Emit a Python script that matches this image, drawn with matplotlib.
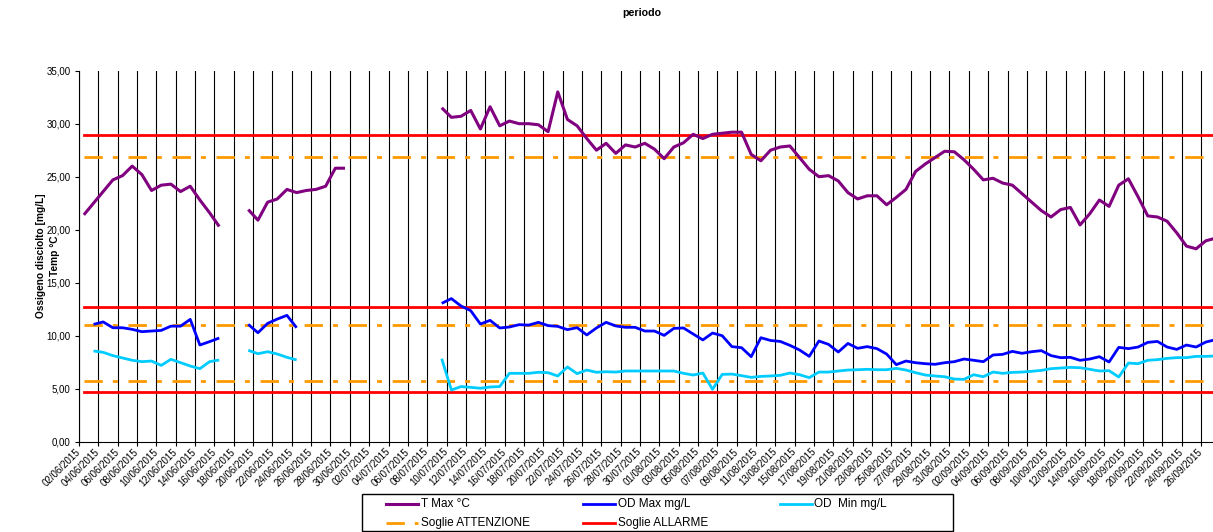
import numpy as np
import pandas as pd
import matplotlib
matplotlib.use("Agg")
import matplotlib.pyplot as plt
import matplotlib.dates as mdates
from matplotlib.lines import Line2D
from matplotlib.patches import Rectangle

plt.rcParams['font.family'] = ['Liberation Sans', 'DejaVu Sans']
plt.rcParams['lines.scale_dashes'] = False

nan = np.nan

# ---------------- data ----------------
start_date = "2015-06-02"
n_days = 118
last_label_date = "2015-09-26"

t_max = ([21.4, 22.5, 23.6, 24.7, 25.1, 26.0, 25.2, 23.7, 24.2, 24.3, 23.6, 24.1, 22.8, 21.6, 20.3]
         + [nan, nan]
         + [21.9, 20.9, 22.6, 22.9, 23.8, 23.5, 23.7, 23.8, 24.1, 25.8, 25.8]
         + [nan] * 9
         + [31.5, 30.6, 30.7, 31.25, 29.5, 31.6, 29.8, 30.25, 30.0, 30.0, 29.9, 29.25, 33.0, 30.4,
            29.8, 28.6, 27.5, 28.15, 27.2, 28.0, 27.8, 28.15, 27.6, 26.7, 27.8, 28.2, 29.0, 28.6,
            29.0, 29.1, 29.2, 29.2, 27.1, 26.5, 27.5, 27.8, 27.9, 26.8, 25.7, 25.0]
         + [25.1, 24.6, 23.5, 22.9, 23.2, 23.2, 22.35, 23.05, 23.8, 25.5, 26.2, 26.8, 27.4, 27.35,
            26.6, 25.7, 24.7, 24.85, 24.4, 24.2, 23.4, 22.6, 21.8, 21.2, 21.9, 22.1, 20.45, 21.5,
            22.8, 22.2, 24.2, 24.8, 23.1, 21.3, 21.2, 20.8, 19.7, 18.45, 18.2, 18.95, 19.2])

od_max = ([nan]
          + [11.07, 11.3, 10.75, 10.75, 10.6, 10.38, 10.44, 10.5, 10.9, 10.9, 11.54, 9.12, 9.44, 9.78]
          + [nan, nan]
          + [11.07, 10.28, 11.16, 11.57, 11.92, 10.75]
          + [nan] * 14
          + [13.05, 13.5, 12.8, 12.36, 11.1, 11.45, 10.73, 10.82, 11.04, 11.0, 11.26, 10.95, 10.88,
             10.57, 10.76, 10.07, 10.73, 11.26, 10.92, 10.79, 10.79, 10.44, 10.44, 10.03, 10.69,
             10.73, 10.16, 9.6, 10.25, 10.0, 8.97, 8.87, 8.02, 9.81, 9.55, 9.46, 9.09, 8.65, 8.05, 9.5]
          + [9.18, 8.46, 9.27, 8.81, 8.97, 8.78, 8.27, 7.27, 7.61, 7.45, 7.36, 7.3, 7.45, 7.55, 7.8,
             7.68, 7.55, 8.18, 8.24, 8.52, 8.34, 8.49, 8.59, 8.12, 7.93, 7.96, 7.68, 7.8, 8.02, 7.52,
             8.9, 8.78, 8.93, 9.37, 9.46, 8.93, 8.71, 9.12, 8.93, 9.4, 9.62])

od_min = ([nan]
          + [8.56, 8.43, 8.12, 7.9, 7.68, 7.55, 7.61, 7.2, 7.77, 7.46, 7.14, 6.89, 7.55, 7.71]
          + [nan, nan]
          + [8.62, 8.3, 8.49, 8.27, 7.96, 7.71]
          + [nan] * 14
          + [7.83, 4.88, 5.2, 5.13, 5.04, 5.16, 5.2, 6.45, 6.45, 6.45, 6.55, 6.51, 6.2, 7.05, 6.42,
             6.76, 6.55, 6.6, 6.57, 6.67, 6.67, 6.67, 6.67, 6.67, 6.67, 6.45, 6.29, 6.48, 4.94, 6.35,
             6.38, 6.23, 6.07, 6.16, 6.2, 6.26, 6.48, 6.32, 6.04, 6.57]
          + [6.57, 6.67, 6.76, 6.79, 6.83, 6.79, 6.79, 6.92, 6.76, 6.51, 6.29, 6.2, 6.13, 5.91, 5.88,
             6.32, 6.13, 6.57, 6.45, 6.54, 6.57, 6.64, 6.73, 6.89, 6.95, 7.01, 6.98, 6.83, 6.67, 6.7,
             6.1, 7.42, 7.36, 7.68, 7.74, 7.86, 7.93, 7.93, 8.05, 8.05, 8.09])

soglie_attenzione = [26.9, 11.0, 5.7]
soglie_allarme = [28.9, 12.7, 4.7]

y_ticks = [0, 5, 10, 15, 20, 25, 30, 35]

series_names = ["T Max °C", "OD Max mg/L", "OD  Min mg/L", "Soglie ATTENZIONE", "Soglie ALLARME"]
title_text = "periodo"
ylabel_lines = ["Ossigeno disciolto [mg/L]", "Temp °C"]

# ---------------- styles ----------------
c_purple = "#800080"
c_blue = "#0000FF"
c_cyan = "#00CCFF"
c_orange = "#FF9900"
c_red = "#FF0000"
dash_att = (0, (13.2, 7.2, 3.6, 7.7))

W, H = 1213, 532
fig = plt.figure(figsize=(W / 100, H / 100), dpi=100)
ax_left, ax_right, ax_top, ax_bottom = 79, 1213, 70.7, 441.7
ax = fig.add_axes([ax_left / W, (H - ax_bottom) / H, (ax_right - ax_left) / W, (ax_bottom - ax_top) / H])

dates = pd.date_range(start_date, periods=n_days, freq="D")
x0 = mdates.date2num(pd.Timestamp(start_date))
x = mdates.date2num(dates) + 0.5
px_per_day = 9.672
x_max = x0 + (ax_right - ax_left) / px_per_day

for v in soglie_attenzione:
    ax.plot(x, np.full(n_days, v), color=c_orange, lw=2.0, linestyle=dash_att,
            dash_capstyle="butt", zorder=2)
for v in soglie_allarme:
    ax.plot(x, np.full(n_days, v), color=c_red, lw=2.0, zorder=2)

line_kw = dict(solid_joinstyle="round", solid_capstyle="butt", zorder=3)
ax.plot(x, t_max, color=c_purple, lw=2.2, **line_kw)
ax.plot(x, od_max, color=c_blue, lw=2.0, **line_kw)
ax.plot(x, od_min, color=c_cyan, lw=2.0, **line_kw)

ax.set_xlim(x0, x_max)
ax.set_ylim(0, 35)

tick_dates = pd.date_range(start_date, last_label_date, freq="2D")
tick_x = mdates.date2num(tick_dates)
ax.set_xticks(tick_x)
ax.set_xticklabels([d.strftime("%d/%m/%Y") for d in tick_dates], rotation=45,
                   ha="right", va="center", rotation_mode="anchor")
ax.set_yticks(y_ticks)
ax.set_yticklabels([f"{v:.2f}".replace(".", ",") for v in y_ticks])

ax.grid(axis="x", color="black", lw=0.8)
ax.set_axisbelow(True)
for s in ["top", "right"]:
    ax.spines[s].set_visible(False)
for s in ["left", "bottom"]:
    ax.spines[s].set_linewidth(0.8)
    ax.spines[s].set_color("black")
ax.tick_params(axis="both", direction="out", length=3, width=0.8, labelsize=7.0, colors="black")
ax.tick_params(axis="x", pad=3)
ax.tick_params(axis="y", pad=3)

fig.text(642 / W, 1 - 13 / H, title_text, fontsize=7.7, fontweight="bold", ha="center", va="center")
fig.text(41 / W, 1 - 256 / H, ylabel_lines[0], fontsize=7.3, fontweight="bold", rotation=90,
         ha="center", va="center")
fig.text(55 / W, 1 - 256 / H, ylabel_lines[1], fontsize=7.3, fontweight="bold", rotation=90,
         ha="center", va="center")

# ---------------- legend (drawn) ----------------
lx0, lx1, ly0, ly1 = 362, 953, 494, 531
fig.patches.append(Rectangle((lx0 / W, 1 - ly1 / H), (lx1 - lx0) / W, (ly1 - ly0) / H,
                             transform=fig.transFigure, facecolor="white", edgecolor="black",
                             lw=1.0, zorder=5))
entries = [
    (series_names[0], dict(color=c_purple, lw=2.2), 385.7, 503.7),
    (series_names[1], dict(color=c_blue, lw=2.0), 583, 503.7),
    (series_names[2], dict(color=c_cyan, lw=2.0), 779.5, 503.7),
    (series_names[3], dict(color=c_orange, lw=2.0, linestyle=dash_att, dash_capstyle="butt"), 385.7, 522.7),
    (series_names[4], dict(color=c_red, lw=2.0), 583, 522.7),
]
for label, kw, sx, sy in entries:
    fig.lines.append(Line2D([sx / W, (sx + 32) / W], [1 - sy / H, 1 - sy / H],
                            transform=fig.transFigure, zorder=6, **kw))
    fig.text((sx + 35) / W, 1 - sy / H, label, fontsize=8.5, ha="left", va="center", zorder=6)

fig.savefig("out.png", dpi=100)
